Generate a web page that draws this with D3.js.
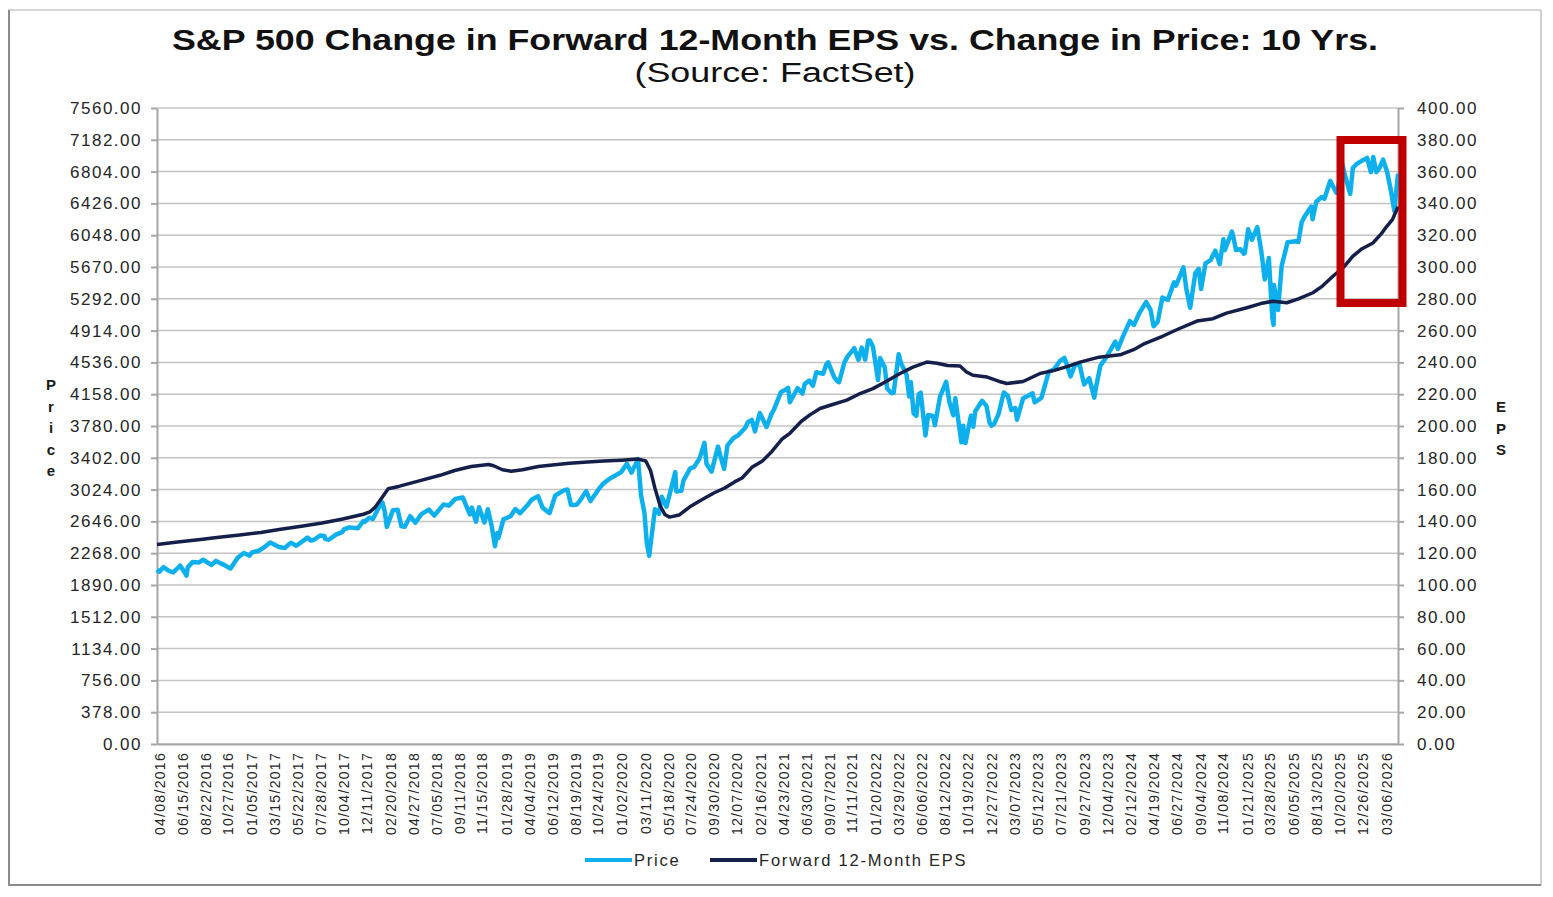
<!DOCTYPE html>
<html>
<head>
<meta charset="utf-8">
<title>S&amp;P 500 Forward EPS vs. Price</title>
<script src="https://d3js.org/d3.v7.min.js"></script>
<style>
    body { margin: 0; background: #fff; }
    svg text { font-family: "Liberation Sans", Arial, sans-serif; fill: #262626; }
    .tick text { font-size: 17px; letter-spacing: 1.5px; fill: #262626; }
    .x-axis .tick text { font-size: 14px; letter-spacing: 1.3px; }
    .grid { stroke: #c4c4c4; stroke-width: 1.5px; }
    .axis path, .axis line { stroke: #a6a6a6; stroke-width: 2px; }
</style>
</head>
<body>
<div id="chart"></div>
<script>
// S&P 500 price (left axis)
const priceSeries = [
    ["2016-04-01",2073],["2016-04-08",2048],["2016-04-20",2102],["2016-05-06",2057],["2016-05-19",2040],
    ["2016-06-08",2119],["2016-06-16",2077],["2016-06-27",2001],["2016-07-01",2103],["2016-07-15",2162],
    ["2016-08-02",2157],["2016-08-15",2190],["2016-09-09",2128],["2016-09-22",2177],["2016-10-04",2150],
    ["2016-10-14",2133],["2016-11-04",2085],["2016-11-25",2213],["2016-12-13",2271],["2016-12-30",2239],
    ["2017-01-06",2277],["2017-01-26",2297],["2017-02-15",2350],["2017-03-01",2396],["2017-03-27",2342],
    ["2017-04-13",2329],["2017-04-28",2384],["2017-05-02",2391],["2017-05-17",2357],["2017-06-19",2453],
    ["2017-06-29",2419],["2017-07-07",2425],["2017-07-26",2478],["2017-08-08",2474],["2017-08-10",2438],
    ["2017-08-21",2428],["2017-09-11",2488],["2017-09-29",2519],["2017-10-05",2552],["2017-10-20",2575],
    ["2017-11-15",2565],["2017-11-30",2648],["2017-12-04",2639],["2017-12-18",2690],["2017-12-29",2674],
    ["2018-01-12",2786],["2018-01-26",2873],["2018-02-02",2762],["2018-02-08",2581],["2018-02-26",2780],
    ["2018-03-12",2784],["2018-03-23",2588],["2018-04-02",2582],["2018-04-18",2708],["2018-05-03",2630],
    ["2018-05-21",2733],["2018-06-12",2786],["2018-06-28",2716],["2018-07-25",2846],["2018-08-10",2833],
    ["2018-08-29",2914],["2018-09-20",2931],["2018-10-11",2728],["2018-10-17",2810],["2018-10-29",2641],
    ["2018-11-07",2814],["2018-11-23",2633],["2018-12-03",2790],["2018-12-14",2600],["2018-12-24",2351],
    ["2018-12-31",2507],
    ["2019-01-03",2448],["2019-01-18",2671],["2019-02-08",2707],["2019-02-22",2793],["2019-03-08",2743],
    ["2019-03-29",2834],["2019-04-12",2907],["2019-04-30",2946],["2019-05-13",2812],["2019-05-31",2752],
    ["2019-06-03",2744],["2019-06-20",2954],["2019-07-15",3014],["2019-07-26",3026],["2019-08-05",2845],
    ["2019-08-14",2840],["2019-08-23",2847],["2019-09-03",2906],["2019-09-19",3006],["2019-10-02",2888],
    ["2019-10-28",3039],["2019-11-08",3093],["2019-11-27",3153],["2019-12-31",3231],
    ["2020-01-17",3330],["2020-01-31",3226],["2020-02-19",3386],["2020-02-28",2954],["2020-03-09",2747],
    ["2020-03-16",2386],["2020-03-23",2237],["2020-04-09",2790],["2020-04-21",2737],["2020-04-29",2940],
    ["2020-05-13",2820],["2020-06-08",3232],["2020-06-11",3002],["2020-06-26",3009],["2020-07-02",3130],
    ["2020-07-22",3276],["2020-08-03",3294],["2020-08-18",3390],["2020-09-02",3580],["2020-09-08",3332],
    ["2020-09-23",3237],["2020-10-12",3535],["2020-10-19",3427],["2020-10-30",3270],["2020-11-09",3550],
    ["2020-11-27",3638],["2020-12-10",3668],["2020-12-31",3756],
    ["2021-01-08",3825],["2021-01-20",3852],["2021-01-29",3714],["2021-02-12",3934],["2021-02-25",3829],
    ["2021-03-04",3768],["2021-03-18",3915],["2021-03-26",3975],["2021-04-16",4185],["2021-04-29",4211],
    ["2021-05-07",4233],["2021-05-12",4063],["2021-05-19",4116],["2021-06-04",4230],["2021-06-18",4166],
    ["2021-06-25",4281],["2021-07-08",4320],["2021-07-19",4258],["2021-07-29",4419],["2021-08-18",4400],
    ["2021-08-27",4509],["2021-09-02",4537],["2021-09-20",4358],["2021-09-30",4308],["2021-10-04",4300],
    ["2021-10-20",4536],["2021-10-29",4605],["2021-11-18",4705],["2021-11-30",4567],["2021-12-10",4712],
    ["2021-12-20",4568],["2021-12-29",4793],
    ["2022-01-03",4796],["2022-01-12",4726],["2022-01-27",4326],["2022-02-02",4589],["2022-02-16",4475],
    ["2022-02-23",4225],["2022-03-08",4170],["2022-03-14",4173],["2022-03-29",4632],["2022-04-05",4525],
    ["2022-04-21",4393],["2022-04-29",4132],["2022-05-04",4300],["2022-05-12",3930],["2022-05-20",3901],
    ["2022-05-27",4158],["2022-06-02",4176],["2022-06-16",3667],["2022-06-24",3912],["2022-07-08",3899],
    ["2022-07-14",3790],["2022-07-29",4130],["2022-08-16",4305],["2022-08-26",4058],["2022-09-06",3908],
    ["2022-09-12",4110],["2022-09-30",3586],["2022-10-05",3783],["2022-10-12",3577],["2022-10-28",3901],
    ["2022-11-04",3771],["2022-11-10",3956],["2022-11-30",4080],["2022-12-13",4019],["2022-12-22",3822],
    ["2022-12-28",3783],
    ["2023-01-05",3808],["2023-01-18",3928],["2023-02-02",4179],["2023-02-14",4136],["2023-02-24",3970],
    ["2023-03-08",3992],["2023-03-13",3855],["2023-03-31",4109],["2023-04-14",4137],["2023-04-28",4169],
    ["2023-05-04",4061],["2023-05-24",4115],["2023-06-15",4426],["2023-06-30",4450],["2023-07-18",4555],
    ["2023-07-31",4589],["2023-08-08",4499],["2023-08-18",4370],["2023-09-01",4516],["2023-09-14",4505],
    ["2023-09-27",4274],["2023-10-12",4349],["2023-10-27",4117],["2023-11-01",4237],["2023-11-14",4496],
    ["2023-12-01",4594],["2023-12-28",4783],
    ["2024-01-05",4697],["2024-01-19",4840],["2024-02-09",5027],["2024-02-21",4981],["2024-03-08",5123],
    ["2024-03-28",5254],["2024-04-10",5160],["2024-04-19",4967],["2024-05-01",5018],["2024-05-15",5308],
    ["2024-05-31",5278],["2024-06-18",5487],["2024-06-24",5448],["2024-07-16",5667],["2024-07-25",5399],
    ["2024-08-05",5186],["2024-08-20",5597],["2024-08-30",5648],["2024-09-06",5408],["2024-09-19",5713],
    ["2024-10-04",5751],["2024-10-18",5864],["2024-10-31",5705],["2024-11-11",6001],["2024-11-15",5870],
    ["2024-12-06",6090],["2024-12-10",6034],["2024-12-18",5872],["2024-12-31",5882],
    ["2025-01-10",5827],["2025-01-13",5836],["2025-01-23",6119],["2025-02-03",5994],["2025-02-19",6144],
    ["2025-03-03",5849],["2025-03-13",5522],["2025-03-25",5777],["2025-04-04",5074],["2025-04-08",4983],
    ["2025-04-09",5457],["2025-04-21",5158],["2025-05-02",5687],["2025-05-12",5844],["2025-05-19",5963],
    ["2025-06-13",5977],["2025-06-20",5967],["2025-06-30",6205],["2025-07-10",6280],["2025-07-28",6389],
    ["2025-08-01",6238],["2025-08-12",6445],["2025-08-28",6502],["2025-09-05",6481],["2025-09-22",6694],
    ["2025-10-10",6553],["2025-10-16",6630],["2025-10-28",6891],["2025-11-04",6771],["2025-11-20",6539],
    ["2025-11-28",6849],["2025-12-11",6901],["2025-12-24",6932],
    ["2026-01-09",6966],["2026-01-20",6797],["2026-01-27",6978],["2026-02-05",6798],["2026-02-13",6836],
    ["2026-02-25",6946],["2026-03-09",6800],["2026-03-20",6580],["2026-03-30",6340],["2026-04-10",6780]
];

// Forward 12-month EPS (right axis)
const epsSeries = [
    ["2016-04-01",125.5],["2016-06-01",127],["2016-08-01",128.5],["2016-10-01",130],["2016-12-01",131.5],
    ["2017-02-01",133],["2017-04-01",135],["2017-06-01",137],["2017-08-01",139],["2017-10-01",141.5],
    ["2017-12-01",144.5],["2017-12-20",146],["2018-01-05",149],["2018-01-25",155],["2018-02-12",160.5],
    ["2018-03-15",162],["2018-05-20",165.8],["2018-07-15",169],["2018-08-27",172],["2018-10-15",174.5],
    ["2018-12-05",175.8],["2018-12-20",175],["2019-01-15",172.5],["2019-02-10",171.5],["2019-03-15",172.5],
    ["2019-05-01",174.5],["2019-06-18",175.7],["2019-08-01",176.5],["2019-09-23",177.4],["2019-11-10",178],
    ["2020-01-01",178.5],["2020-02-20",179.2],["2020-03-13",178],["2020-03-27",172],["2020-04-10",160],
    ["2020-04-24",150],["2020-05-08",144.4],["2020-05-22",142.7],["2020-06-19",144],["2020-07-20",149],
    ["2020-08-20",153],["2020-10-01",158],["2020-11-01",161],["2020-12-01",165],["2020-12-22",167.3],
    ["2021-01-20",174],["2021-02-20",178],["2021-03-20",184],["2021-04-20",192],["2021-05-12",195.4],
    ["2021-06-15",203],["2021-07-10",207],["2021-08-09",211],["2021-09-15",213.5],["2021-10-27",216.3],
    ["2021-12-01",220],["2022-01-12",223.5],["2022-02-20",228],["2022-04-02",233],["2022-05-10",237],
    ["2022-06-20",240.2],["2022-07-20",239.5],["2022-08-20",238],["2022-09-26",237.7],["2022-10-15",234],
    ["2022-11-03",231.9],["2022-12-15",230.8],["2023-01-20",228],["2023-02-11",226.7],["2023-03-31",228],
    ["2023-05-20",233],["2023-07-01",235],["2023-08-10",237.5],["2023-09-15",240.2],["2023-11-10",243.3],
    ["2024-01-11",244.8],["2024-02-20",248],["2024-03-25",252],["2024-05-17",256.6],["2024-07-01",261],
    ["2024-08-25",266],["2024-10-11",267.5],["2024-11-20",271],["2025-01-19",274.4],["2025-03-01",277],
    ["2025-04-06",278.5],["2025-05-17",277.5],["2025-06-20",280],["2025-08-02",283.8],["2025-08-30",288],
    ["2025-09-30",294.2],["2025-11-01",300],["2025-11-28",306.8],["2025-12-25",311.5],["2026-01-26",315.1],
    ["2026-02-20",321],["2026-03-08",325.6],["2026-03-25",330],["2026-04-10",338]
];

const xTickLabels = [
    "04/08/2016","06/15/2016","08/22/2016","10/27/2016","01/05/2017","03/15/2017","05/22/2017","07/28/2017",
    "10/04/2017","12/11/2017","02/20/2018","04/27/2018","07/05/2018","09/11/2018","11/15/2018","01/28/2019",
    "04/04/2019","06/12/2019","08/19/2019","10/24/2019","01/02/2020","03/11/2020","05/18/2020","07/24/2020",
    "09/30/2020","12/07/2020","02/16/2021","04/23/2021","06/30/2021","09/07/2021","11/11/2021","01/20/2022",
    "03/29/2022","06/06/2022","08/12/2022","10/19/2022","12/27/2022","03/07/2023","05/12/2023","07/21/2023",
    "09/27/2023","12/04/2023","02/12/2024","04/19/2024","06/27/2024","09/04/2024","11/08/2024","01/21/2025",
    "03/28/2025","06/05/2025","08/13/2025","10/20/2025","12/26/2025","03/06/2026"
];

const priceTicks = [0,378,756,1134,1512,1890,2268,2646,3024,3402,3780,4158,4536,4914,5292,5670,6048,6426,6804,7182,7560];
const epsTicks = [0,20,40,60,80,100,120,140,160,180,200,220,240,260,280,300,320,340,360,380,400];

const parseDate = d3.timeParse("%Y-%m-%d");
const parseLabel = d3.timeParse("%m/%d/%Y");

const width = 1553, height = 897;
const plot = { left: 157, right: 1398, top: 108, bottom: 744 };

const svg = d3.select("#chart")
    .append("svg")
    .attr("width", width)
    .attr("height", height);

// outer frame of the chart picture
svg.append("line").attr("x1", 8).attr("y1", 10).attr("x2", 1541).attr("y2", 10)
    .attr("stroke", "#d6d6d6").attr("stroke-width", 2);
svg.append("line").attr("x1", 1541).attr("y1", 10).attr("x2", 1541).attr("y2", 886)
    .attr("stroke", "#d0d0d0").attr("stroke-width", 2);
svg.append("line").attr("x1", 9).attr("y1", 10).attr("x2", 9).attr("y2", 886)
    .attr("stroke", "#8c8c8c").attr("stroke-width", 2);
svg.append("line").attr("x1", 9).attr("y1", 885).attr("x2", 1541).attr("y2", 885)
    .attr("stroke", "#8c8c8c").attr("stroke-width", 2);

// scales
const x = d3.scaleTime()
    .domain([parseDate("2016-04-01"), parseDate("2026-04-10")])
    .range([plot.left, plot.right]);
const yPrice = d3.scaleLinear().domain([0, 7560]).range([plot.bottom, plot.top]);
const yEps = d3.scaleLinear().domain([0, 400]).range([plot.bottom, plot.top]);

// horizontal gridlines
svg.append("g")
    .selectAll("line")
    .data(priceTicks)
    .join("line")
    .attr("class", "grid")
    .attr("x1", plot.left)
    .attr("x2", plot.right)
    .attr("y1", d => yPrice(d))
    .attr("y2", d => yPrice(d));

// axes
svg.append("g")
    .attr("class", "axis")
    .attr("transform", `translate(${plot.left},0)`)
    .call(d3.axisLeft(yPrice).tickValues(priceTicks).tickFormat(d3.format(".2f"))
        .tickSize(6).tickSizeOuter(0).tickPadding(9));

svg.append("g")
    .attr("class", "axis")
    .attr("transform", `translate(${plot.right},0)`)
    .call(d3.axisRight(yEps).tickValues(epsTicks).tickFormat(d3.format(".2f"))
        .tickSize(6).tickSizeOuter(0).tickPadding(13));

const xAxis = svg.append("g")
    .attr("class", "axis x-axis")
    .attr("transform", `translate(0,${plot.bottom})`)
    .call(d3.axisBottom(x).tickValues(xTickLabels.map(parseLabel))
        .tickFormat(d3.timeFormat("%m/%d/%Y")).tickSize(0).tickSizeOuter(0));

xAxis.selectAll("text")
    .attr("y", 0)
    .attr("x", -8)
    .attr("dy", "0.35em")
    .attr("transform", "rotate(-90)")
    .style("text-anchor", "end");

// lines
const priceLine = d3.line()
    .x(d => x(parseDate(d[0])))
    .y(d => yPrice(d[1]));
const epsLine = d3.line()
    .x(d => x(parseDate(d[0])))
    .y(d => yEps(d[1]));

svg.append("path")
    .datum(priceSeries)
    .attr("fill", "none")
    .attr("stroke", "#0db0ec")
    .attr("stroke-width", 4.5)
    .attr("stroke-linejoin", "round")
    .attr("d", priceLine);

svg.append("path")
    .datum(epsSeries)
    .attr("fill", "none")
    .attr("stroke", "#14204a")
    .attr("stroke-width", 3.5)
    .attr("stroke-linejoin", "round")
    .attr("d", epsLine);

// titles
svg.append("text")
    .attr("x", 775).attr("y", 50)
    .attr("text-anchor", "middle")
    .attr("font-size", 30).attr("font-weight", "bold")
    .attr("textLength", 1206).attr("lengthAdjust", "spacingAndGlyphs")
    .style("fill", "#111")
    .text("S&P 500 Change in Forward 12-Month EPS vs. Change in Price: 10 Yrs.");

svg.append("text")
    .attr("x", 775).attr("y", 82)
    .attr("text-anchor", "middle")
    .attr("font-size", 27)
    .attr("textLength", 281).attr("lengthAdjust", "spacingAndGlyphs")
    .style("fill", "#111")
    .text("(Source: FactSet)");

// stacked axis titles
function stacked(letters, cx, y0, step) {
    svg.append("g")
        .selectAll("text")
        .data(letters)
        .join("text")
        .attr("x", cx)
        .attr("y", (d, i) => y0 + i * step)
        .attr("text-anchor", "middle")
        .attr("font-size", 15)
        .attr("font-weight", "bold")
        .style("fill", "#1a1a1a")
        .text(d => d);
}
stacked(["P", "r", "i", "c", "e"], 51, 390, 21.5);
stacked(["E", "P", "S"], 1501, 412, 21.5);

// highlight box
svg.append("rect")
    .attr("x", 1340.5).attr("y", 140)
    .attr("width", 62).attr("height", 163)
    .attr("fill", "none")
    .attr("stroke", "#c00000")
    .attr("stroke-width", 8);

// legend
const legend = svg.append("g").attr("font-size", 16.5).attr("letter-spacing", "1.8px");
legend.append("line").attr("x1", 585).attr("x2", 632).attr("y1", 860).attr("y2", 860)
    .attr("stroke", "#0db0ec").attr("stroke-width", 4);
legend.append("text").attr("x", 634).attr("y", 866).text("Price");
legend.append("line").attr("x1", 710).attr("x2", 757).attr("y1", 860).attr("y2", 860)
    .attr("stroke", "#14204a").attr("stroke-width", 4);
legend.append("text").attr("x", 759).attr("y", 866).text("Forward 12-Month EPS");
</script>
</body>
</html>
